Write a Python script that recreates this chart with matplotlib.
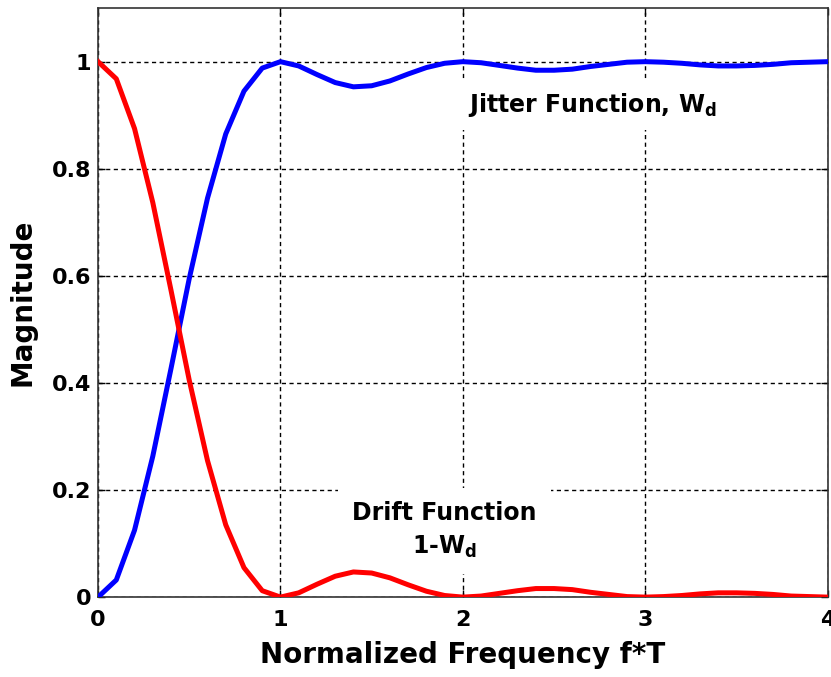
import matplotlib

matplotlib.use("Agg")
import matplotlib.pyplot as plt

# values, step 0.1 in f*T
freq = [i / 10 for i in range(41)]
drift = [1.000, 0.968, 0.875, 0.737, 0.573, 0.405, 0.255, 0.135, 0.055, 0.012,
         0.000, 0.008, 0.024, 0.039, 0.047, 0.045, 0.036, 0.023, 0.011, 0.003,
         0.000, 0.002, 0.007, 0.012, 0.016, 0.016, 0.014, 0.009, 0.005, 0.001,
         0.000, 0.001, 0.003, 0.006, 0.008, 0.008, 0.007, 0.005, 0.002, 0.001,
         0.000]
jitter = [0.000, 0.032, 0.125, 0.263, 0.427, 0.595, 0.745, 0.865, 0.945, 0.988,
          1.000, 0.992, 0.976, 0.961, 0.953, 0.955, 0.964, 0.977, 0.989, 0.997,
          1.000, 0.998, 0.993, 0.988, 0.984, 0.984, 0.986, 0.991, 0.995, 0.999,
          1.000, 0.999, 0.997, 0.994, 0.992, 0.992, 0.993, 0.995, 0.998, 0.999,
          1.000]
xticks = [0, 1, 2, 3, 4]
yticks = [0, 0.2, 0.4, 0.6, 0.8, 1.0]
ytick_labels = ["0", "0.2", "0.4", "0.6", "0.8", "1"]

plt.rcParams["font.family"] = ["DejaVu Sans"]
plt.rcParams["font.weight"] = "bold"
plt.rcParams["mathtext.fontset"] = "dejavusans"

fig = plt.figure(figsize=(8.31, 6.77), dpi=100)
ax = fig.add_axes([0.118, 0.118, 0.878, 0.870])

ax.plot(freq, jitter, color="#0000ff", linewidth=3.6, zorder=4)
ax.plot(freq, drift, color="#ff0000", linewidth=3.6, zorder=4)

ax.set_xlim(0, 4)
ax.set_ylim(0, 1.1)
ax.set_xticks(xticks)
ax.set_yticks(yticks)
ax.set_yticklabels(ytick_labels)
ax.tick_params(direction="in", length=5, width=1, labelsize=16, top=True, right=True)
ax.tick_params(axis="x", pad=9)
ax.tick_params(axis="y", pad=5)
for lab in ax.get_xticklabels() + ax.get_yticklabels():
    lab.set_fontweight("bold")

ax.grid(True, color="black", linestyle=(0, (3, 2.5)), linewidth=1)
ax.set_axisbelow(True)
for sp in ax.spines.values():
    sp.set_linewidth(1.2)
    sp.set_color("#333333")

ax.set_xlabel("Normalized Frequency f*T", fontsize=20, fontweight="bold", labelpad=8)
ax.set_ylabel("Magnitude", fontsize=20, fontweight="bold", labelpad=11)

ax.text(2.03, 0.92, r"Jitter Function, $\mathbf{W}_{\mathrm{d}}$", fontsize=17,
        fontweight="bold", ha="left", va="center",
        bbox=dict(facecolor="white", edgecolor="none", pad=8), zorder=3)
ax.text(1.90, 0.125, "Drift Function\n" + r"1-$\mathbf{W}_{\mathrm{d}}$", fontsize=17,
        fontweight="bold", ha="center", va="center", linespacing=1.45,
        bbox=dict(facecolor="white", edgecolor="none", pad=10), zorder=3)

fig.savefig("out.png", dpi=100)
plt.close(fig)
